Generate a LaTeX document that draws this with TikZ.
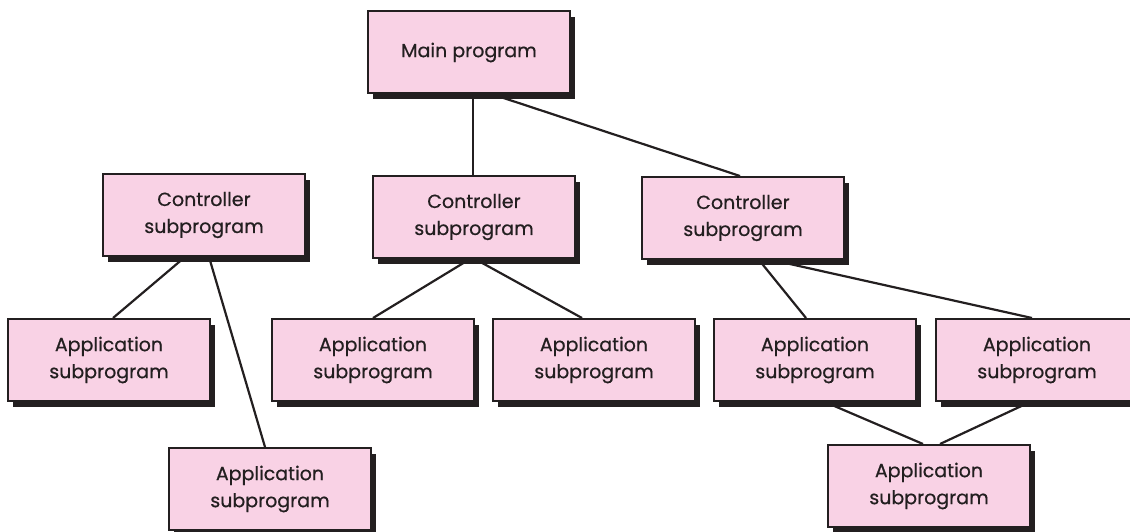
\documentclass[tikz,border=0pt]{standalone}
\usepackage{fontspec}
\setmainfont{Poppins}[FakeBold=0.6]
\usetikzlibrary{shadows}
\definecolor{boxpink}{HTML}{F9D2E5}
\definecolor{ink}{HTML}{231F20}
\begin{document}
\begin{tikzpicture}[x=1pt,y=-1pt,
  prog/.style={draw=ink, line width=2pt, fill=boxpink,
    minimum width=202pt, minimum height=82pt, inner sep=0pt,
    align=center, font=\fontsize{19}{27}\selectfont, text=ink,
    drop shadow={shadow xshift=5pt,shadow yshift=-5.5pt,fill=ink,opacity=1}},
  twoline/.style={prog, execute at begin node={\rule{0pt}{27pt}}},
  link/.style={draw=ink, line width=2.2pt}]
\useasboundingbox (0,0) rectangle (1130,532);
\node[prog] (main) at (469,52.5) {Main program};
\node[twoline] (cl) at (204,215) {Controller\\subprogram};
\node[twoline] (cm) at (474,217) {Controller\\subprogram};
\node[twoline] (cr) at (743,218) {Controller\\subprogram};
\node[twoline] (a1) at (109,360) {Application\\subprogram};
\node[twoline] (a2) at (373,360) {Application\\subprogram};
\node[twoline] (a3) at (594,360) {Application\\subprogram};
\node[twoline] (a4) at (815,360) {Application\\subprogram};
\node[twoline] (a5) at (1037,360) {Application\\subprogram};
\node[twoline] (b1) at (270,489) {Application\\subprogram};
\node[twoline] (b2) at (929,486) {Application\\subprogram};
\draw[link] ([xshift=4pt]main.south) -- ([xshift=-1pt]cm.north);
\draw[link] ([xshift=24pt]main.south) -- ([xshift=-3pt]cr.north);
\draw[link] ([xshift=-19pt]cl.south) -- ([xshift=4pt]a1.north);
\draw[link] ([xshift=5pt]cl.south) -- ([xshift=-5pt]b1.north);
\draw[link] ([xshift=-4pt]cm.south) -- (a2.north);
\draw[link] ([xshift=1pt]cm.south) -- ([xshift=-12pt]a3.north);
\draw[link] ([xshift=16pt]cr.south) -- ([xshift=-9pt]a4.north);
\draw[link] ([xshift=29pt]cr.south) -- ([xshift=-5pt]a5.north);
\draw[link] ([xshift=10pt]a4.south) -- ([xshift=-6pt]b2.north);
\draw[link] ([xshift=-7pt]a5.south) -- ([xshift=11pt]b2.north);
\end{tikzpicture}
\end{document}
